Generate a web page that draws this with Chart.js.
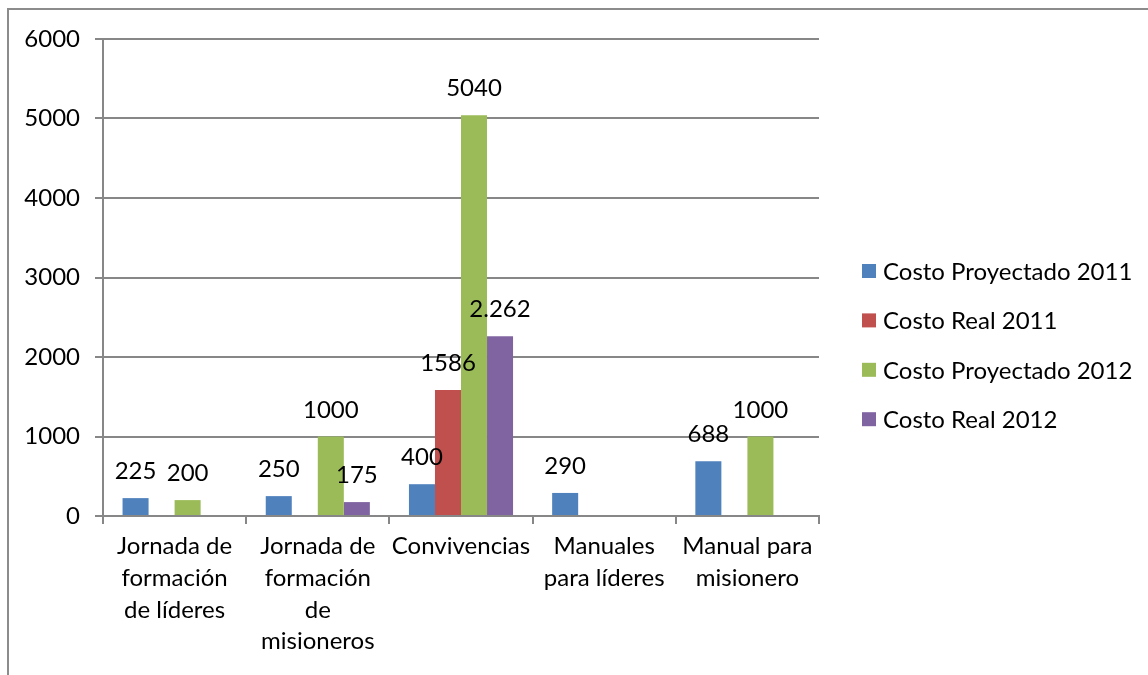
<!DOCTYPE html>
<html>
<head>
<meta charset="utf-8">
<script src="https://cdn.jsdelivr.net/npm/chart.js@4/dist/chart.umd.min.js"></script>
<style>
  html, body { margin: 0; padding: 0; background: #fff; }
  #wrap { position: relative; width: 1148px; height: 675px; }
  #frame { position: absolute; left: 7px; top: 8px; right: 0; bottom: 0;
           border-left: 2px solid #8c8c8c; border-top: 2px solid #8c8c8c; }
  canvas { position: absolute; left: 0; top: 0; }
</style>
</head>
<body>
<div id="wrap">
  <div id="frame"></div>
  <canvas id="chart" width="1148" height="675"></canvas>
</div>
<script>
const categories = [
  ['Jornada de', 'formación', 'de líderes'],
  ['Jornada de', 'formación', 'de', 'misioneros'],
  'Convivencias',
  ['Manuales', 'para líderes'],
  ['Manual para', 'misionero']
]
const seriesNames = ['Costo Proyectado 2011', 'Costo Real 2011', 'Costo Proyectado 2012', 'Costo Real 2012']
const proyectado2011 = [225, 250, 400, 290, 688]
const real2011 = [null, null, 1586, null, null]
const proyectado2012 = [200, 1000, 5040, null, 1000]
const real2012 = [null, 175, 2262, null, null]
// labels as printed on the chart (one of them uses a thousands dot)
const labelsProy2011 = ['225', '250', '400', '290', '688']
const labelsReal2011 = [null, null, '1586', null, null]
const labelsProy2012 = ['200', '1000', '5040', null, '1000']
const labelsReal2012 = [null, '175', '2.262', null, null]
const yTicks = [0, 1000, 2000, 3000, 4000, 5000, 6000]

const colors = ['#4F81BD', '#C0504D', '#9BBB59', '#8064A2']
const FONT = 'Lato, "Open Sans", sans-serif'
const FSIZE = 24
const gridColor = '#878787'

const seriesData = [proyectado2011, real2011, proyectado2012, real2012]
const seriesLabels = [labelsProy2011, labelsReal2011, labelsProy2012, labelsReal2012]

const valueLabels = {
  id: 'valueLabels',
  afterDatasetsDraw(chart) {
    const ctx = chart.ctx
    ctx.save()
    ctx.font = FSIZE + 'px ' + FONT
    ctx.fillStyle = '#000'
    ctx.textAlign = 'center'
    ctx.textBaseline = 'alphabetic'
    chart.data.datasets.forEach((ds, i) => {
      chart.getDatasetMeta(i).data.forEach((bar, j) => {
        const txt = seriesLabels[i][j]
        if (txt == null) return
        ctx.fillText(txt, bar.x, bar.y - 19)
      })
    })
    ctx.restore()
  }
}

const sideLegend = {
  id: 'sideLegend',
  afterDraw(chart) {
    const ctx = chart.ctx
    const x = chart.chartArea.right + 43
    const y0 = 271
    const step = 49.4
    ctx.save()
    ctx.font = FSIZE + 'px ' + FONT
    ctx.textBaseline = 'middle'
    ctx.textAlign = 'left'
    seriesNames.forEach((name, i) => {
      const y = y0 + i * step
      ctx.fillStyle = colors[i]
      ctx.fillRect(x, y - 7, 14, 14)
      ctx.fillStyle = '#000'
      ctx.fillText(name, x + 21, y + 1)
    })
    ctx.restore()
  }
}

new Chart(document.getElementById('chart'), {
  type: 'bar',
  data: {
    labels: categories,
    datasets: seriesData.map((d, i) => ({
      label: seriesNames[i],
      data: d,
      backgroundColor: colors[i],
      borderWidth: 0,
      barPercentage: 1,
      categoryPercentage: 0.727
    }))
  },
  options: {
    responsive: false,
    animation: false,
    layout: { padding: { top: 39, right: 329, left: 0, bottom: 0 } },
    plugins: {
      legend: { display: false },
      tooltip: { enabled: false }
    },
    scales: {
      x: {
        offset: true,
        grid: { display: true, drawOnChartArea: false, offset: true, color: gridColor, lineWidth: 2, tickLength: 8 },
        border: { color: gridColor, width: 2 },
        ticks: { color: '#000', font: { family: FONT, size: FSIZE, lineHeight: 1.33 }, padding: 6, maxRotation: 0, autoSkip: false },
        afterFit: (scale) => { scale.height = 159 }
      },
      y: {
        min: 0,
        max: 6000,
        afterBuildTicks: (scale) => { scale.ticks = yTicks.map(v => ({ value: v })) },
        grid: { color: gridColor, lineWidth: 2, tickLength: 8 },
        border: { color: gridColor, width: 2 },
        ticks: { color: '#000', font: { family: FONT, size: FSIZE }, padding: 15, callback: (v) => String(v) },
        afterFit: (scale) => { scale.width = 103 }
      }
    }
  },
  plugins: [valueLabels, sideLegend]
})
</script>
</body>
</html>
